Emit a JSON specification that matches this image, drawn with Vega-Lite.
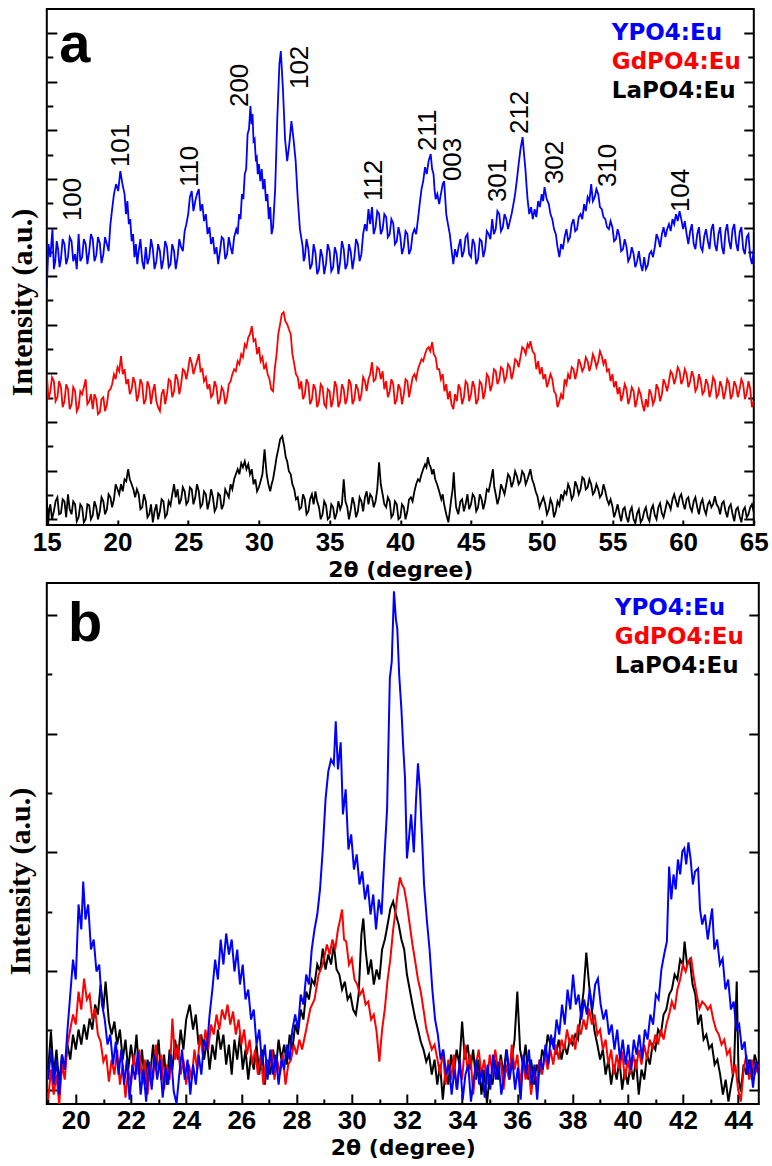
{
"$schema": "https://vega.github.io/schema/vega-lite/v6.json",
"padding": {"left": 3.8, "top": 8, "right": 0, "bottom": 0},
"spacing": 1,
"columns": 1,
"config": {
  "view": {"stroke": "#000", "strokeWidth": 2},
  "axis": {"domain": false, "grid": false, "tickColor": "#000", "tickWidth": 2, "minExtent": 0, "labelFont": "Liberation Sans", "labelFontWeight": "bold", "labelFontSize": 26, "labelColor": "#000", "labelFlush": false, "labelOverlap": false, "titleColor": "#000"},
  "axisX": {"titleFont": "DejaVu Sans", "titleFontWeight": "bold", "titleFontSize": 22, "titlePadding": 4},
  "axisY": {"titleFont": "Liberation Serif", "titleFontWeight": "bold", "titleFontSize": 30},
  "legend": {"orient": "top-right", "labelFont": "DejaVu Sans", "labelFontWeight": "bold", "labelFontSize": 23, "symbolSize": 0, "symbolOpacity": 0, "symbolStrokeWidth": 0, "labelOffset": 0, "rowPadding": 5, "padding": 0, "labelColor": "#000"}
},
"resolve": {"scale": {"color": "independent"}},
"datasets": {
"aY": [{"x":15,"y":232},{"x":15.12,"y":275},{"x":15.25,"y":262},{"x":15.4,"y":290},{"x":15.5,"y":250},{"x":15.6,"y":258},{"x":15.7,"y":278},{"x":15.8,"y":270},{"x":15.9,"y":252},{"x":16,"y":260},{"x":16.12,"y":280},{"x":16.25,"y":275},{"x":16.37,"y":255},{"x":16.5,"y":262},{"x":16.62,"y":282},{"x":16.75,"y":278},{"x":16.87,"y":258},{"x":17,"y":265},{"x":17.12,"y":250},{"x":17.25,"y":285},{"x":17.37,"y":258},{"x":17.5,"y":262},{"x":17.62,"y":280},{"x":17.75,"y":275},{"x":17.87,"y":255},{"x":18,"y":268},{"x":18.12,"y":285},{"x":18.25,"y":280},{"x":18.37,"y":258},{"x":18.5,"y":264},{"x":18.62,"y":282},{"x":18.75,"y":276},{"x":18.87,"y":256},{"x":19,"y":265},{"x":19.12,"y":282},{"x":19.25,"y":275},{"x":19.37,"y":268},{"x":19.5,"y":295},{"x":19.62,"y":310},{"x":19.75,"y":325},{"x":19.9,"y":335},{"x":20.05,"y":328},{"x":20.2,"y":348},{"x":20.35,"y":335},{"x":20.5,"y":325},{"x":20.6,"y":305},{"x":20.7,"y":318},{"x":20.8,"y":295},{"x":20.9,"y":300},{"x":21,"y":278},{"x":21.1,"y":285},{"x":21.2,"y":262},{"x":21.3,"y":275},{"x":21.4,"y":255},{"x":21.5,"y":268},{"x":21.62,"y":280},{"x":21.75,"y":258},{"x":21.87,"y":250},{"x":22,"y":272},{"x":22.12,"y":255},{"x":22.25,"y":262},{"x":22.37,"y":280},{"x":22.5,"y":270},{"x":22.62,"y":250},{"x":22.75,"y":258},{"x":22.87,"y":275},{"x":23,"y":268},{"x":23.12,"y":250},{"x":23.25,"y":260},{"x":23.37,"y":278},{"x":23.5,"y":272},{"x":23.62,"y":252},{"x":23.75,"y":255},{"x":23.87,"y":275},{"x":24,"y":268},{"x":24.12,"y":250},{"x":24.25,"y":262},{"x":24.37,"y":280},{"x":24.5,"y":272},{"x":24.62,"y":268},{"x":24.75,"y":288},{"x":24.87,"y":295},{"x":25,"y":305},{"x":25.12,"y":322},{"x":25.25,"y":328},{"x":25.37,"y":308},{"x":25.5,"y":318},{"x":25.62,"y":325},{"x":25.75,"y":330},{"x":25.87,"y":308},{"x":26,"y":315},{"x":26.12,"y":298},{"x":26.25,"y":305},{"x":26.37,"y":285},{"x":26.5,"y":292},{"x":26.62,"y":275},{"x":26.75,"y":282},{"x":26.87,"y":265},{"x":27,"y":272},{"x":27.12,"y":255},{"x":27.25,"y":268},{"x":27.37,"y":282},{"x":27.5,"y":280},{"x":27.62,"y":260},{"x":27.75,"y":265},{"x":27.87,"y":282},{"x":28,"y":272},{"x":28.12,"y":265},{"x":28.25,"y":282},{"x":28.4,"y":290},{"x":28.5,"y":285},{"x":28.6,"y":305},{"x":28.7,"y":300},{"x":28.8,"y":325},{"x":28.9,"y":320},{"x":29,"y":345},{"x":29.1,"y":350},{"x":29.2,"y":385},{"x":29.3,"y":390},{"x":29.4,"y":413},{"x":29.48,"y":395},{"x":29.55,"y":405},{"x":29.62,"y":378},{"x":29.7,"y":380},{"x":29.78,"y":360},{"x":29.85,"y":362},{"x":29.92,"y":345},{"x":30,"y":355},{"x":30.1,"y":338},{"x":30.2,"y":350},{"x":30.3,"y":330},{"x":30.4,"y":340},{"x":30.5,"y":318},{"x":30.6,"y":325},{"x":30.7,"y":300},{"x":30.8,"y":312},{"x":30.9,"y":285},{"x":31,"y":292},{"x":31.15,"y":330},{"x":31.3,"y":400},{"x":31.45,"y":455},{"x":31.55,"y":468},{"x":31.7,"y":430},{"x":31.85,"y":380},{"x":32,"y":358},{"x":32.15,"y":375},{"x":32.3,"y":398},{"x":32.45,"y":380},{"x":32.6,"y":358},{"x":32.75,"y":320},{"x":32.9,"y":290},{"x":33.1,"y":272},{"x":33.17,"y":258},{"x":33.25,"y":262},{"x":33.37,"y":280},{"x":33.5,"y":270},{"x":33.62,"y":250},{"x":33.75,"y":255},{"x":33.87,"y":275},{"x":34,"y":266},{"x":34.12,"y":245},{"x":34.25,"y":250},{"x":34.37,"y":270},{"x":34.5,"y":262},{"x":34.62,"y":245},{"x":34.75,"y":256},{"x":34.87,"y":275},{"x":35,"y":268},{"x":35.12,"y":248},{"x":35.25,"y":252},{"x":35.37,"y":272},{"x":35.5,"y":265},{"x":35.62,"y":245},{"x":35.75,"y":258},{"x":35.87,"y":278},{"x":36,"y":270},{"x":36.12,"y":250},{"x":36.25,"y":255},{"x":36.37,"y":275},{"x":36.5,"y":267},{"x":36.62,"y":250},{"x":36.75,"y":262},{"x":36.87,"y":280},{"x":37,"y":275},{"x":37.12,"y":258},{"x":37.25,"y":265},{"x":37.37,"y":285},{"x":37.5,"y":295},{"x":37.62,"y":288},{"x":37.75,"y":310},{"x":37.87,"y":295},{"x":38,"y":312},{"x":38.12,"y":285},{"x":38.25,"y":292},{"x":38.37,"y":308},{"x":38.5,"y":305},{"x":38.62,"y":285},{"x":38.75,"y":290},{"x":38.87,"y":305},{"x":39,"y":302},{"x":39.12,"y":282},{"x":39.25,"y":285},{"x":39.37,"y":300},{"x":39.5,"y":296},{"x":39.62,"y":275},{"x":39.75,"y":278},{"x":39.87,"y":292},{"x":40,"y":283},{"x":40.12,"y":265},{"x":40.25,"y":272},{"x":40.37,"y":288},{"x":40.5,"y":285},{"x":40.62,"y":265},{"x":40.75,"y":270},{"x":40.87,"y":285},{"x":41,"y":290},{"x":41.12,"y":285},{"x":41.25,"y":300},{"x":41.37,"y":315},{"x":41.5,"y":330},{"x":41.62,"y":338},{"x":41.75,"y":352},{"x":41.87,"y":345},{"x":42,"y":358},{"x":42.15,"y":365},{"x":42.25,"y":350},{"x":42.35,"y":345},{"x":42.42,"y":330},{"x":42.5,"y":320},{"x":42.62,"y":325},{"x":42.75,"y":315},{"x":42.87,"y":325},{"x":43,"y":335},{"x":43.1,"y":338},{"x":43.25,"y":305},{"x":43.37,"y":295},{"x":43.5,"y":285},{"x":43.62,"y":270},{"x":43.75,"y":255},{"x":43.87,"y":270},{"x":44,"y":262},{"x":44.12,"y":272},{"x":44.25,"y":280},{"x":44.37,"y":262},{"x":44.5,"y":268},{"x":44.62,"y":282},{"x":44.75,"y":285},{"x":44.87,"y":265},{"x":45,"y":262},{"x":45.12,"y":280},{"x":45.25,"y":275},{"x":45.37,"y":255},{"x":45.5,"y":260},{"x":45.62,"y":280},{"x":45.75,"y":278},{"x":45.87,"y":262},{"x":46,"y":270},{"x":46.12,"y":288},{"x":46.25,"y":285},{"x":46.37,"y":280},{"x":46.5,"y":300},{"x":46.62,"y":285},{"x":46.75,"y":290},{"x":46.87,"y":308},{"x":47,"y":305},{"x":47.12,"y":288},{"x":47.25,"y":292},{"x":47.37,"y":305},{"x":47.5,"y":300},{"x":47.62,"y":290},{"x":47.75,"y":298},{"x":47.87,"y":305},{"x":48,"y":315},{"x":48.12,"y":325},{"x":48.25,"y":340},{"x":48.37,"y":355},{"x":48.5,"y":370},{"x":48.65,"y":382},{"x":48.75,"y":365},{"x":48.85,"y":350},{"x":48.92,"y":335},{"x":49,"y":320},{"x":49.12,"y":305},{"x":49.25,"y":312},{"x":49.37,"y":300},{"x":49.5,"y":310},{"x":49.62,"y":302},{"x":49.75,"y":318},{"x":49.87,"y":312},{"x":50,"y":325},{"x":50.1,"y":318},{"x":50.2,"y":332},{"x":50.35,"y":320},{"x":50.5,"y":315},{"x":50.62,"y":305},{"x":50.75,"y":300},{"x":50.87,"y":290},{"x":51,"y":285},{"x":51.12,"y":272},{"x":51.25,"y":262},{"x":51.37,"y":275},{"x":51.5,"y":270},{"x":51.62,"y":282},{"x":51.75,"y":290},{"x":51.87,"y":278},{"x":52,"y":282},{"x":52.12,"y":295},{"x":52.25,"y":300},{"x":52.37,"y":288},{"x":52.5,"y":290},{"x":52.62,"y":302},{"x":52.75,"y":305},{"x":52.87,"y":300},{"x":53,"y":315},{"x":53.12,"y":308},{"x":53.25,"y":322},{"x":53.37,"y":318},{"x":53.5,"y":335},{"x":53.62,"y":318},{"x":53.75,"y":322},{"x":53.87,"y":330},{"x":54,"y":325},{"x":54.12,"y":312},{"x":54.25,"y":310},{"x":54.37,"y":302},{"x":54.5,"y":300},{"x":54.62,"y":292},{"x":54.75,"y":290},{"x":54.87,"y":298},{"x":55,"y":292},{"x":55.12,"y":278},{"x":55.25,"y":280},{"x":55.37,"y":290},{"x":55.5,"y":283},{"x":55.62,"y":268},{"x":55.75,"y":270},{"x":55.87,"y":280},{"x":56,"y":272},{"x":56.12,"y":258},{"x":56.25,"y":262},{"x":56.37,"y":272},{"x":56.5,"y":265},{"x":56.62,"y":252},{"x":56.75,"y":258},{"x":56.87,"y":268},{"x":57,"y":255},{"x":57.12,"y":248},{"x":57.25,"y":262},{"x":57.37,"y":250},{"x":57.5,"y":254},{"x":57.62,"y":265},{"x":57.75,"y":268},{"x":57.87,"y":262},{"x":58,"y":272},{"x":58.12,"y":285},{"x":58.25,"y":280},{"x":58.37,"y":272},{"x":58.5,"y":285},{"x":58.62,"y":292},{"x":58.75,"y":282},{"x":58.87,"y":290},{"x":59,"y":295},{"x":59.12,"y":288},{"x":59.25,"y":300},{"x":59.37,"y":295},{"x":59.5,"y":305},{"x":59.62,"y":298},{"x":59.75,"y":308},{"x":59.87,"y":300},{"x":60,"y":290},{"x":60.12,"y":298},{"x":60.25,"y":285},{"x":60.37,"y":275},{"x":60.5,"y":288},{"x":60.62,"y":295},{"x":60.75,"y":275},{"x":60.87,"y":270},{"x":61,"y":285},{"x":61.12,"y":292},{"x":61.25,"y":272},{"x":61.37,"y":268},{"x":61.5,"y":283},{"x":61.62,"y":290},{"x":61.75,"y":278},{"x":61.87,"y":270},{"x":62,"y":290},{"x":62.12,"y":295},{"x":62.25,"y":275},{"x":62.37,"y":268},{"x":62.5,"y":285},{"x":62.62,"y":292},{"x":62.75,"y":272},{"x":62.87,"y":265},{"x":63,"y":288},{"x":63.12,"y":295},{"x":63.25,"y":278},{"x":63.37,"y":270},{"x":63.5,"y":290},{"x":63.62,"y":295},{"x":63.75,"y":276},{"x":63.87,"y":268},{"x":64,"y":287},{"x":64.12,"y":292},{"x":64.25,"y":270},{"x":64.37,"y":265},{"x":64.5,"y":282},{"x":64.62,"y":285},{"x":64.75,"y":262},{"x":64.87,"y":255},{"x":65,"y":270}],
"aG": [{"x":15,"y":145},{"x":15.12,"y":120},{"x":15.25,"y":128},{"x":15.37,"y":142},{"x":15.5,"y":138},{"x":15.62,"y":118},{"x":15.75,"y":122},{"x":15.87,"y":138},{"x":16,"y":132},{"x":16.12,"y":112},{"x":16.25,"y":118},{"x":16.37,"y":135},{"x":16.5,"y":130},{"x":16.62,"y":110},{"x":16.75,"y":115},{"x":16.87,"y":132},{"x":17,"y":128},{"x":17.12,"y":108},{"x":17.25,"y":112},{"x":17.37,"y":128},{"x":17.5,"y":125},{"x":17.62,"y":132},{"x":17.75,"y":140},{"x":17.87,"y":115},{"x":18,"y":118},{"x":18.12,"y":125},{"x":18.25,"y":110},{"x":18.37,"y":125},{"x":18.5,"y":120},{"x":18.62,"y":105},{"x":18.75,"y":107},{"x":18.87,"y":120},{"x":19,"y":122},{"x":19.12,"y":108},{"x":19.25,"y":115},{"x":19.37,"y":128},{"x":19.5,"y":130},{"x":19.62,"y":135},{"x":19.75,"y":145},{"x":19.87,"y":140},{"x":20,"y":152},{"x":20.12,"y":148},{"x":20.25,"y":163},{"x":20.37,"y":145},{"x":20.5,"y":150},{"x":20.62,"y":135},{"x":20.75,"y":140},{"x":20.87,"y":125},{"x":21,"y":130},{"x":21.12,"y":142},{"x":21.25,"y":136},{"x":21.37,"y":118},{"x":21.5,"y":125},{"x":21.62,"y":140},{"x":21.75,"y":135},{"x":21.87,"y":115},{"x":22,"y":120},{"x":22.12,"y":138},{"x":22.25,"y":132},{"x":22.37,"y":115},{"x":22.5,"y":128},{"x":22.62,"y":135},{"x":22.75,"y":118},{"x":22.87,"y":112},{"x":23,"y":108},{"x":23.12,"y":125},{"x":23.25,"y":130},{"x":23.37,"y":115},{"x":23.5,"y":125},{"x":23.62,"y":140},{"x":23.75,"y":138},{"x":23.87,"y":122},{"x":24,"y":128},{"x":24.12,"y":145},{"x":24.25,"y":140},{"x":24.37,"y":125},{"x":24.5,"y":135},{"x":24.62,"y":150},{"x":24.75,"y":148},{"x":24.87,"y":140},{"x":25,"y":150},{"x":25.12,"y":162},{"x":25.25,"y":156},{"x":25.37,"y":145},{"x":25.5,"y":152},{"x":25.62,"y":158},{"x":25.75,"y":165},{"x":25.87,"y":148},{"x":26,"y":150},{"x":26.12,"y":138},{"x":26.25,"y":142},{"x":26.37,"y":130},{"x":26.5,"y":135},{"x":26.62,"y":122},{"x":26.75,"y":125},{"x":26.87,"y":138},{"x":27,"y":132},{"x":27.12,"y":115},{"x":27.25,"y":120},{"x":27.37,"y":132},{"x":27.5,"y":128},{"x":27.62,"y":115},{"x":27.75,"y":122},{"x":27.87,"y":135},{"x":28,"y":138},{"x":28.12,"y":145},{"x":28.25,"y":150},{"x":28.37,"y":148},{"x":28.5,"y":158},{"x":28.62,"y":155},{"x":28.75,"y":165},{"x":28.87,"y":162},{"x":29,"y":175},{"x":29.12,"y":172},{"x":29.25,"y":182},{"x":29.37,"y":185},{"x":29.5,"y":193},{"x":29.62,"y":178},{"x":29.75,"y":180},{"x":29.87,"y":165},{"x":30,"y":172},{"x":30.12,"y":158},{"x":30.25,"y":162},{"x":30.37,"y":150},{"x":30.5,"y":155},{"x":30.62,"y":145},{"x":30.75,"y":140},{"x":30.87,"y":130},{"x":31,"y":128},{"x":31.12,"y":150},{"x":31.25,"y":165},{"x":31.37,"y":185},{"x":31.5,"y":195},{"x":31.62,"y":205},{"x":31.75,"y":207},{"x":31.87,"y":198},{"x":32,"y":195},{"x":32.12,"y":190},{"x":32.25,"y":185},{"x":32.37,"y":165},{"x":32.5,"y":155},{"x":32.62,"y":145},{"x":32.75,"y":142},{"x":32.87,"y":130},{"x":33,"y":138},{"x":33.12,"y":120},{"x":33.25,"y":125},{"x":33.37,"y":140},{"x":33.5,"y":135},{"x":33.62,"y":115},{"x":33.75,"y":120},{"x":33.87,"y":135},{"x":34,"y":130},{"x":34.12,"y":112},{"x":34.25,"y":118},{"x":34.37,"y":135},{"x":34.5,"y":132},{"x":34.62,"y":115},{"x":34.75,"y":112},{"x":34.87,"y":130},{"x":35,"y":128},{"x":35.12,"y":112},{"x":35.25,"y":120},{"x":35.37,"y":138},{"x":35.5,"y":132},{"x":35.62,"y":112},{"x":35.75,"y":118},{"x":35.87,"y":135},{"x":36,"y":130},{"x":36.12,"y":115},{"x":36.25,"y":122},{"x":36.37,"y":140},{"x":36.5,"y":135},{"x":36.62,"y":115},{"x":36.75,"y":120},{"x":36.87,"y":135},{"x":37,"y":130},{"x":37.12,"y":118},{"x":37.25,"y":125},{"x":37.37,"y":142},{"x":37.5,"y":138},{"x":37.62,"y":128},{"x":37.75,"y":140},{"x":37.87,"y":145},{"x":38,"y":157},{"x":38.12,"y":138},{"x":38.25,"y":140},{"x":38.37,"y":152},{"x":38.5,"y":150},{"x":38.62,"y":140},{"x":38.75,"y":148},{"x":38.87,"y":130},{"x":39,"y":138},{"x":39.12,"y":122},{"x":39.25,"y":128},{"x":39.37,"y":140},{"x":39.5,"y":135},{"x":39.62,"y":115},{"x":39.75,"y":120},{"x":39.87,"y":135},{"x":40,"y":130},{"x":40.12,"y":115},{"x":40.25,"y":125},{"x":40.37,"y":140},{"x":40.5,"y":138},{"x":40.62,"y":122},{"x":40.75,"y":132},{"x":40.87,"y":142},{"x":41,"y":145},{"x":41.12,"y":140},{"x":41.25,"y":150},{"x":41.37,"y":155},{"x":41.5,"y":160},{"x":41.62,"y":158},{"x":41.75,"y":165},{"x":41.87,"y":170},{"x":42,"y":172},{"x":42.12,"y":168},{"x":42.25,"y":177},{"x":42.37,"y":165},{"x":42.5,"y":162},{"x":42.62,"y":150},{"x":42.75,"y":150},{"x":42.87,"y":140},{"x":43,"y":145},{"x":43.12,"y":128},{"x":43.25,"y":135},{"x":43.37,"y":120},{"x":43.5,"y":128},{"x":43.62,"y":115},{"x":43.75,"y":110},{"x":43.87,"y":125},{"x":44,"y":118},{"x":44.12,"y":135},{"x":44.25,"y":130},{"x":44.37,"y":115},{"x":44.5,"y":122},{"x":44.62,"y":138},{"x":44.75,"y":135},{"x":44.87,"y":118},{"x":45,"y":125},{"x":45.12,"y":138},{"x":45.25,"y":132},{"x":45.37,"y":115},{"x":45.5,"y":120},{"x":45.62,"y":138},{"x":45.75,"y":135},{"x":45.87,"y":120},{"x":46,"y":128},{"x":46.12,"y":145},{"x":46.25,"y":142},{"x":46.37,"y":128},{"x":46.5,"y":135},{"x":46.62,"y":150},{"x":46.75,"y":148},{"x":46.87,"y":135},{"x":47,"y":140},{"x":47.12,"y":152},{"x":47.25,"y":150},{"x":47.37,"y":138},{"x":47.5,"y":142},{"x":47.62,"y":155},{"x":47.75,"y":152},{"x":47.87,"y":140},{"x":48,"y":148},{"x":48.12,"y":160},{"x":48.25,"y":158},{"x":48.37,"y":152},{"x":48.5,"y":162},{"x":48.62,"y":172},{"x":48.75,"y":170},{"x":48.87,"y":165},{"x":49,"y":175},{"x":49.1,"y":172},{"x":49.2,"y":178},{"x":49.35,"y":168},{"x":49.5,"y":165},{"x":49.62,"y":150},{"x":49.75,"y":158},{"x":49.87,"y":145},{"x":50,"y":152},{"x":50.12,"y":140},{"x":50.25,"y":145},{"x":50.37,"y":132},{"x":50.5,"y":138},{"x":50.62,"y":145},{"x":50.75,"y":140},{"x":50.87,"y":128},{"x":51,"y":125},{"x":51.12,"y":112},{"x":51.25,"y":118},{"x":51.37,"y":125},{"x":51.5,"y":120},{"x":51.62,"y":140},{"x":51.75,"y":135},{"x":51.87,"y":145},{"x":52,"y":140},{"x":52.12,"y":152},{"x":52.25,"y":150},{"x":52.37,"y":140},{"x":52.5,"y":148},{"x":52.62,"y":160},{"x":52.75,"y":155},{"x":52.87,"y":148},{"x":53,"y":152},{"x":53.12,"y":162},{"x":53.25,"y":158},{"x":53.37,"y":148},{"x":53.5,"y":155},{"x":53.62,"y":165},{"x":53.75,"y":160},{"x":53.87,"y":152},{"x":54,"y":158},{"x":54.12,"y":168},{"x":54.25,"y":163},{"x":54.37,"y":155},{"x":54.5,"y":160},{"x":54.62,"y":148},{"x":54.75,"y":150},{"x":54.87,"y":138},{"x":55,"y":145},{"x":55.12,"y":132},{"x":55.25,"y":138},{"x":55.37,"y":125},{"x":55.5,"y":132},{"x":55.62,"y":118},{"x":55.75,"y":125},{"x":55.87,"y":135},{"x":56,"y":130},{"x":56.12,"y":115},{"x":56.25,"y":122},{"x":56.37,"y":132},{"x":56.5,"y":128},{"x":56.62,"y":112},{"x":56.75,"y":120},{"x":56.87,"y":130},{"x":57,"y":125},{"x":57.12,"y":115},{"x":57.25,"y":108},{"x":57.37,"y":120},{"x":57.5,"y":112},{"x":57.62,"y":130},{"x":57.75,"y":125},{"x":57.87,"y":115},{"x":58,"y":120},{"x":58.12,"y":135},{"x":58.25,"y":130},{"x":58.37,"y":118},{"x":58.5,"y":125},{"x":58.62,"y":140},{"x":58.75,"y":135},{"x":58.87,"y":128},{"x":59,"y":138},{"x":59.12,"y":148},{"x":59.25,"y":145},{"x":59.37,"y":135},{"x":59.5,"y":142},{"x":59.62,"y":152},{"x":59.75,"y":148},{"x":59.87,"y":135},{"x":60,"y":140},{"x":60.12,"y":150},{"x":60.25,"y":145},{"x":60.37,"y":132},{"x":60.5,"y":138},{"x":60.62,"y":148},{"x":60.75,"y":142},{"x":60.87,"y":128},{"x":61,"y":132},{"x":61.12,"y":145},{"x":61.25,"y":138},{"x":61.37,"y":125},{"x":61.5,"y":128},{"x":61.62,"y":140},{"x":61.75,"y":135},{"x":61.87,"y":122},{"x":62,"y":130},{"x":62.12,"y":142},{"x":62.25,"y":138},{"x":62.37,"y":122},{"x":62.5,"y":125},{"x":62.62,"y":138},{"x":62.75,"y":132},{"x":62.87,"y":120},{"x":63,"y":128},{"x":63.12,"y":140},{"x":63.25,"y":136},{"x":63.37,"y":120},{"x":63.5,"y":125},{"x":63.62,"y":138},{"x":63.75,"y":133},{"x":63.87,"y":122},{"x":64,"y":130},{"x":64.12,"y":140},{"x":64.25,"y":135},{"x":64.37,"y":120},{"x":64.5,"y":126},{"x":64.62,"y":138},{"x":64.75,"y":130},{"x":64.87,"y":112},{"x":65,"y":118}],
"aL": [{"x":15,"y":20},{"x":15.1,"y":-5},{"x":15.17,"y":10},{"x":15.25,"y":15},{"x":15.37,"y":0},{"x":15.5,"y":8},{"x":15.62,"y":18},{"x":15.75,"y":22},{"x":15.87,"y":5},{"x":16,"y":6},{"x":16.12,"y":20},{"x":16.25,"y":18},{"x":16.37,"y":2},{"x":16.5,"y":25},{"x":16.62,"y":10},{"x":16.75,"y":5},{"x":16.87,"y":18},{"x":17,"y":15},{"x":17.12,"y":-2},{"x":17.25,"y":2},{"x":17.37,"y":15},{"x":17.5,"y":12},{"x":17.62,"y":-3},{"x":17.75,"y":0},{"x":17.87,"y":15},{"x":18,"y":14},{"x":18.12,"y":0},{"x":18.25,"y":4},{"x":18.37,"y":18},{"x":18.5,"y":12},{"x":18.62,"y":0},{"x":18.75,"y":8},{"x":18.87,"y":22},{"x":19,"y":18},{"x":19.12,"y":5},{"x":19.25,"y":10},{"x":19.37,"y":25},{"x":19.5,"y":22},{"x":19.62,"y":12},{"x":19.75,"y":20},{"x":19.87,"y":35},{"x":20,"y":30},{"x":20.12,"y":25},{"x":20.25,"y":35},{"x":20.37,"y":28},{"x":20.5,"y":40},{"x":20.62,"y":38},{"x":20.75,"y":50},{"x":20.87,"y":40},{"x":21,"y":35},{"x":21.12,"y":30},{"x":21.25,"y":22},{"x":21.37,"y":30},{"x":21.5,"y":25},{"x":21.62,"y":10},{"x":21.75,"y":12},{"x":21.87,"y":25},{"x":22,"y":18},{"x":22.12,"y":2},{"x":22.25,"y":5},{"x":22.37,"y":15},{"x":22.5,"y":-3},{"x":22.62,"y":8},{"x":22.75,"y":15},{"x":22.87,"y":0},{"x":23,"y":8},{"x":23.12,"y":20},{"x":23.25,"y":18},{"x":23.37,"y":2},{"x":23.5,"y":5},{"x":23.62,"y":18},{"x":23.75,"y":14},{"x":23.87,"y":25},{"x":24,"y":35},{"x":24.12,"y":22},{"x":24.25,"y":30},{"x":24.37,"y":15},{"x":24.5,"y":20},{"x":24.62,"y":32},{"x":24.75,"y":28},{"x":24.87,"y":15},{"x":25,"y":18},{"x":25.12,"y":32},{"x":25.25,"y":30},{"x":25.37,"y":15},{"x":25.5,"y":22},{"x":25.62,"y":35},{"x":25.75,"y":28},{"x":25.87,"y":12},{"x":26,"y":15},{"x":26.12,"y":28},{"x":26.25,"y":25},{"x":26.37,"y":10},{"x":26.5,"y":18},{"x":26.62,"y":30},{"x":26.75,"y":22},{"x":26.87,"y":8},{"x":27,"y":12},{"x":27.12,"y":26},{"x":27.25,"y":24},{"x":27.37,"y":10},{"x":27.5,"y":15},{"x":27.62,"y":30},{"x":27.75,"y":26},{"x":27.87,"y":22},{"x":28,"y":35},{"x":28.12,"y":30},{"x":28.25,"y":40},{"x":28.37,"y":45},{"x":28.5,"y":50},{"x":28.62,"y":45},{"x":28.75,"y":56},{"x":28.87,"y":52},{"x":29,"y":58},{"x":29.12,"y":50},{"x":29.25,"y":55},{"x":29.37,"y":45},{"x":29.5,"y":50},{"x":29.62,"y":35},{"x":29.75,"y":40},{"x":29.87,"y":28},{"x":30,"y":32},{"x":30.12,"y":38},{"x":30.25,"y":45},{"x":30.4,"y":70},{"x":30.55,"y":45},{"x":30.67,"y":35},{"x":30.8,"y":28},{"x":30.9,"y":35},{"x":31,"y":40},{"x":31.12,"y":50},{"x":31.25,"y":62},{"x":31.37,"y":70},{"x":31.5,"y":80},{"x":31.65,"y":83},{"x":31.8,"y":72},{"x":31.9,"y":62},{"x":32,"y":58},{"x":32.12,"y":48},{"x":32.25,"y":45},{"x":32.37,"y":35},{"x":32.5,"y":30},{"x":32.62,"y":20},{"x":32.75,"y":22},{"x":32.87,"y":10},{"x":33,"y":12},{"x":33.12,"y":25},{"x":33.25,"y":20},{"x":33.37,"y":5},{"x":33.5,"y":8},{"x":33.62,"y":20},{"x":33.75,"y":25},{"x":33.87,"y":15},{"x":34,"y":28},{"x":34.12,"y":18},{"x":34.25,"y":12},{"x":34.37,"y":0},{"x":34.5,"y":5},{"x":34.62,"y":18},{"x":34.75,"y":14},{"x":34.87,"y":0},{"x":35,"y":2},{"x":35.12,"y":15},{"x":35.25,"y":12},{"x":35.37,"y":0},{"x":35.5,"y":6},{"x":35.62,"y":18},{"x":35.75,"y":10},{"x":35.87,"y":15},{"x":36,"y":40},{"x":36.12,"y":18},{"x":36.25,"y":12},{"x":36.37,"y":0},{"x":36.5,"y":10},{"x":36.62,"y":22},{"x":36.75,"y":15},{"x":36.87,"y":2},{"x":37,"y":8},{"x":37.12,"y":22},{"x":37.25,"y":18},{"x":37.37,"y":8},{"x":37.5,"y":22},{"x":37.62,"y":28},{"x":37.75,"y":15},{"x":37.87,"y":25},{"x":38,"y":22},{"x":38.12,"y":12},{"x":38.25,"y":18},{"x":38.37,"y":30},{"x":38.5,"y":57},{"x":38.62,"y":35},{"x":38.75,"y":25},{"x":38.87,"y":15},{"x":39,"y":12},{"x":39.12,"y":22},{"x":39.25,"y":18},{"x":39.37,"y":2},{"x":39.5,"y":5},{"x":39.62,"y":18},{"x":39.75,"y":15},{"x":39.87,"y":0},{"x":40,"y":2},{"x":40.12,"y":15},{"x":40.25,"y":12},{"x":40.37,"y":0},{"x":40.5,"y":8},{"x":40.62,"y":20},{"x":40.75,"y":22},{"x":40.87,"y":18},{"x":41,"y":28},{"x":41.12,"y":35},{"x":41.25,"y":40},{"x":41.37,"y":38},{"x":41.5,"y":45},{"x":41.62,"y":50},{"x":41.75,"y":55},{"x":41.85,"y":52},{"x":41.95,"y":62},{"x":42.05,"y":55},{"x":42.15,"y":52},{"x":42.25,"y":45},{"x":42.35,"y":50},{"x":42.47,"y":40},{"x":42.6,"y":35},{"x":42.75,"y":28},{"x":42.9,"y":20},{"x":43,"y":25},{"x":43.1,"y":15},{"x":43.25,"y":5},{"x":43.4,"y":-3},{"x":43.5,"y":8},{"x":43.6,"y":20},{"x":43.7,"y":30},{"x":43.78,"y":47},{"x":43.87,"y":25},{"x":43.95,"y":12},{"x":44.1,"y":5},{"x":44.25,"y":18},{"x":44.37,"y":20},{"x":44.5,"y":8},{"x":44.62,"y":15},{"x":44.75,"y":25},{"x":44.87,"y":10},{"x":45,"y":15},{"x":45.12,"y":25},{"x":45.25,"y":22},{"x":45.37,"y":8},{"x":45.5,"y":12},{"x":45.62,"y":25},{"x":45.75,"y":20},{"x":45.87,"y":10},{"x":46,"y":18},{"x":46.12,"y":30},{"x":46.25,"y":28},{"x":46.4,"y":38},{"x":46.55,"y":50},{"x":46.65,"y":32},{"x":46.75,"y":25},{"x":46.87,"y":15},{"x":47,"y":22},{"x":47.12,"y":35},{"x":47.25,"y":30},{"x":47.37,"y":25},{"x":47.5,"y":35},{"x":47.62,"y":45},{"x":47.75,"y":42},{"x":47.87,"y":32},{"x":48,"y":38},{"x":48.12,"y":48},{"x":48.25,"y":43},{"x":48.37,"y":35},{"x":48.5,"y":38},{"x":48.62,"y":48},{"x":48.75,"y":45},{"x":48.87,"y":35},{"x":49,"y":40},{"x":49.1,"y":45},{"x":49.2,"y":50},{"x":49.32,"y":40},{"x":49.45,"y":35},{"x":49.57,"y":28},{"x":49.7,"y":23},{"x":49.85,"y":12},{"x":50,"y":18},{"x":50.12,"y":22},{"x":50.25,"y":15},{"x":50.37,"y":5},{"x":50.5,"y":10},{"x":50.62,"y":20},{"x":50.75,"y":15},{"x":50.87,"y":2},{"x":51,"y":8},{"x":51.12,"y":18},{"x":51.25,"y":14},{"x":51.37,"y":25},{"x":51.5,"y":20},{"x":51.62,"y":28},{"x":51.75,"y":25},{"x":51.87,"y":35},{"x":52,"y":30},{"x":52.12,"y":20},{"x":52.25,"y":24},{"x":52.37,"y":38},{"x":52.5,"y":33},{"x":52.62,"y":25},{"x":52.75,"y":30},{"x":52.87,"y":42},{"x":53,"y":40},{"x":53.12,"y":30},{"x":53.25,"y":32},{"x":53.37,"y":40},{"x":53.5,"y":35},{"x":53.62,"y":25},{"x":53.75,"y":28},{"x":53.87,"y":35},{"x":54,"y":30},{"x":54.12,"y":22},{"x":54.25,"y":25},{"x":54.37,"y":35},{"x":54.5,"y":28},{"x":54.62,"y":20},{"x":54.75,"y":15},{"x":54.87,"y":20},{"x":55,"y":13},{"x":55.12,"y":2},{"x":55.25,"y":8},{"x":55.37,"y":15},{"x":55.5,"y":5},{"x":55.62,"y":-2},{"x":55.75,"y":10},{"x":55.87,"y":12},{"x":56,"y":2},{"x":56.12,"y":-3},{"x":56.25,"y":8},{"x":56.37,"y":12},{"x":56.5,"y":0},{"x":56.62,"y":-4},{"x":56.75,"y":6},{"x":56.87,"y":10},{"x":57,"y":-3},{"x":57.12,"y":0},{"x":57.25,"y":8},{"x":57.37,"y":12},{"x":57.5,"y":2},{"x":57.62,"y":-2},{"x":57.75,"y":10},{"x":57.87,"y":14},{"x":58,"y":4},{"x":58.12,"y":0},{"x":58.25,"y":12},{"x":58.37,"y":16},{"x":58.5,"y":6},{"x":58.62,"y":2},{"x":58.75,"y":10},{"x":58.87,"y":18},{"x":59,"y":15},{"x":59.12,"y":10},{"x":59.25,"y":20},{"x":59.37,"y":25},{"x":59.5,"y":18},{"x":59.62,"y":12},{"x":59.75,"y":22},{"x":59.87,"y":25},{"x":60,"y":16},{"x":60.12,"y":10},{"x":60.25,"y":20},{"x":60.37,"y":22},{"x":60.5,"y":12},{"x":60.62,"y":8},{"x":60.75,"y":18},{"x":60.87,"y":22},{"x":61,"y":12},{"x":61.12,"y":5},{"x":61.25,"y":16},{"x":61.37,"y":20},{"x":61.5,"y":10},{"x":61.62,"y":5},{"x":61.75,"y":15},{"x":61.87,"y":18},{"x":62,"y":12},{"x":62.12,"y":15},{"x":62.25,"y":23},{"x":62.37,"y":15},{"x":62.5,"y":12},{"x":62.62,"y":5},{"x":62.75,"y":16},{"x":62.87,"y":18},{"x":63,"y":8},{"x":63.12,"y":2},{"x":63.25,"y":12},{"x":63.37,"y":15},{"x":63.5,"y":5},{"x":63.62,"y":-2},{"x":63.75,"y":10},{"x":63.87,"y":12},{"x":64,"y":3},{"x":64.12,"y":-3},{"x":64.25,"y":9},{"x":64.37,"y":12},{"x":64.5,"y":2},{"x":64.62,"y":5},{"x":64.75,"y":12},{"x":64.87,"y":15},{"x":65,"y":7}],
"hkl": [{"h":"100","x":16.84,"y":298},{"h":"101","x":20.27,"y":352},{"h":"110","x":25.16,"y":332},{"h":"200","x":28.66,"y":412},{"h":"102","x":32.93,"y":430},{"h":"112","x":38.17,"y":318},{"h":"211","x":41.96,"y":368},{"h":"003","x":43.7,"y":338},{"h":"301","x":46.93,"y":317},{"h":"212","x":48.5,"y":385},{"h":"302","x":50.95,"y":335},{"h":"310","x":54.7,"y":332},{"h":"104","x":59.86,"y":307}],
"bY": [{"x":19,"y":10},{"x":19.1,"y":40},{"x":19.2,"y":5},{"x":19.3,"y":30},{"x":19.4,"y":-5},{"x":19.5,"y":35},{"x":19.6,"y":20},{"x":19.7,"y":60},{"x":19.8,"y":95},{"x":19.9,"y":130},{"x":20,"y":110},{"x":20.1,"y":185},{"x":20.2,"y":160},{"x":20.27,"y":208},{"x":20.35,"y":170},{"x":20.45,"y":185},{"x":20.55,"y":140},{"x":20.65,"y":150},{"x":20.75,"y":118},{"x":20.85,"y":125},{"x":20.95,"y":85},{"x":21.05,"y":70},{"x":21.15,"y":45},{"x":21.25,"y":55},{"x":21.35,"y":25},{"x":21.45,"y":48},{"x":21.55,"y":15},{"x":21.65,"y":40},{"x":21.75,"y":5},{"x":21.85,"y":30},{"x":21.95,"y":-10},{"x":22.05,"y":25},{"x":22.15,"y":10},{"x":22.25,"y":38},{"x":22.35,"y":-5},{"x":22.45,"y":20},{"x":22.55,"y":-12},{"x":22.65,"y":28},{"x":22.75,"y":0},{"x":22.85,"y":35},{"x":22.95,"y":10},{"x":23.05,"y":30},{"x":23.15,"y":-8},{"x":23.25,"y":22},{"x":23.35,"y":5},{"x":23.45,"y":35},{"x":23.55,"y":-2},{"x":23.65,"y":-14},{"x":23.75,"y":15},{"x":23.85,"y":40},{"x":23.95,"y":10},{"x":24.05,"y":30},{"x":24.15,"y":-5},{"x":24.25,"y":25},{"x":24.35,"y":5},{"x":24.45,"y":35},{"x":24.55,"y":15},{"x":24.65,"y":50},{"x":24.75,"y":40},{"x":24.85,"y":75},{"x":24.95,"y":100},{"x":25.05,"y":130},{"x":25.15,"y":110},{"x":25.25,"y":150},{"x":25.35,"y":125},{"x":25.45,"y":156},{"x":25.55,"y":135},{"x":25.65,"y":150},{"x":25.75,"y":118},{"x":25.85,"y":140},{"x":25.95,"y":105},{"x":26.05,"y":125},{"x":26.15,"y":90},{"x":26.25,"y":100},{"x":26.35,"y":70},{"x":26.45,"y":80},{"x":26.55,"y":45},{"x":26.65,"y":60},{"x":26.75,"y":25},{"x":26.85,"y":45},{"x":26.95,"y":10},{"x":27.05,"y":40},{"x":27.15,"y":15},{"x":27.25,"y":35},{"x":27.35,"y":5},{"x":27.45,"y":30},{"x":27.55,"y":20},{"x":27.65,"y":45},{"x":27.75,"y":30},{"x":27.85,"y":60},{"x":27.95,"y":75},{"x":28.05,"y":60},{"x":28.15,"y":95},{"x":28.25,"y":85},{"x":28.35,"y":115},{"x":28.45,"y":105},{"x":28.55,"y":140},{"x":28.65,"y":160},{"x":28.75,"y":175},{"x":28.85,"y":200},{"x":28.95,"y":240},{"x":29.05,"y":290},{"x":29.15,"y":318},{"x":29.25,"y":330},{"x":29.35,"y":325},{"x":29.42,"y":368},{"x":29.5,"y":320},{"x":29.6,"y":347},{"x":29.68,"y":275},{"x":29.78,"y":300},{"x":29.88,"y":240},{"x":29.98,"y":255},{"x":30.08,"y":220},{"x":30.18,"y":235},{"x":30.28,"y":205},{"x":30.38,"y":218},{"x":30.48,"y":190},{"x":30.58,"y":205},{"x":30.68,"y":175},{"x":30.78,"y":195},{"x":30.88,"y":160},{"x":30.98,"y":190},{"x":31.08,"y":175},{"x":31.18,"y":230},{"x":31.28,"y":280},{"x":31.38,"y":411},{"x":31.45,"y":428},{"x":31.53,"y":498},{"x":31.6,"y":470},{"x":31.65,"y":461},{"x":31.72,"y":414},{"x":31.8,"y":380},{"x":31.86,"y":345},{"x":31.93,"y":311},{"x":32,"y":231},{"x":32.07,"y":250},{"x":32.15,"y":275},{"x":32.25,"y":237},{"x":32.33,"y":290},{"x":32.4,"y":326},{"x":32.47,"y":300},{"x":32.55,"y":250},{"x":32.62,"y":205},{"x":32.72,"y":170},{"x":32.82,"y":140},{"x":32.92,"y":100},{"x":33.02,"y":70},{"x":33.12,"y":55},{"x":33.22,"y":30},{"x":33.32,"y":40},{"x":33.42,"y":15},{"x":33.52,"y":25},{"x":33.62,"y":-5},{"x":33.72,"y":20},{"x":33.82,"y":0},{"x":33.92,"y":30},{"x":34.02,"y":-10},{"x":34.12,"y":15},{"x":34.22,"y":25},{"x":34.32,"y":-12},{"x":34.42,"y":10},{"x":34.52,"y":30},{"x":34.62,"y":5},{"x":34.72,"y":20},{"x":34.82,"y":-8},{"x":34.92,"y":25},{"x":35.02,"y":0},{"x":35.12,"y":35},{"x":35.22,"y":10},{"x":35.32,"y":28},{"x":35.42,"y":-5},{"x":35.52,"y":15},{"x":35.62,"y":40},{"x":35.72,"y":10},{"x":35.82,"y":30},{"x":35.92,"y":0},{"x":36.02,"y":22},{"x":36.12,"y":-10},{"x":36.22,"y":35},{"x":36.32,"y":15},{"x":36.42,"y":40},{"x":36.52,"y":5},{"x":36.62,"y":25},{"x":36.72,"y":-10},{"x":36.82,"y":30},{"x":36.92,"y":20},{"x":37.02,"y":45},{"x":37.12,"y":25},{"x":37.22,"y":55},{"x":37.32,"y":40},{"x":37.42,"y":70},{"x":37.52,"y":55},{"x":37.62,"y":85},{"x":37.72,"y":65},{"x":37.82,"y":100},{"x":37.92,"y":80},{"x":38.02,"y":115},{"x":38.12,"y":85},{"x":38.22,"y":95},{"x":38.32,"y":70},{"x":38.42,"y":90},{"x":38.52,"y":75},{"x":38.62,"y":100},{"x":38.72,"y":80},{"x":38.82,"y":105},{"x":38.92,"y":111},{"x":39.02,"y":85},{"x":39.12,"y":70},{"x":39.22,"y":80},{"x":39.32,"y":55},{"x":39.42,"y":65},{"x":39.52,"y":40},{"x":39.62,"y":60},{"x":39.72,"y":30},{"x":39.82,"y":50},{"x":39.92,"y":25},{"x":40.02,"y":45},{"x":40.12,"y":20},{"x":40.22,"y":50},{"x":40.32,"y":35},{"x":40.42,"y":55},{"x":40.52,"y":30},{"x":40.62,"y":60},{"x":40.72,"y":50},{"x":40.82,"y":75},{"x":40.92,"y":65},{"x":41.02,"y":95},{"x":41.12,"y":90},{"x":41.22,"y":120},{"x":41.32,"y":135},{"x":41.42,"y":148},{"x":41.5,"y":223},{"x":41.58,"y":190},{"x":41.66,"y":215},{"x":41.74,"y":200},{"x":41.82,"y":230},{"x":41.9,"y":215},{"x":41.98,"y":238},{"x":42.05,"y":241},{"x":42.12,"y":225},{"x":42.2,"y":247},{"x":42.28,"y":230},{"x":42.36,"y":205},{"x":42.44,"y":218},{"x":42.55,"y":221},{"x":42.62,"y":180},{"x":42.7,"y":165},{"x":42.8,"y":175},{"x":42.9,"y":150},{"x":43,"y":170},{"x":43.06,"y":181},{"x":43.14,"y":140},{"x":43.24,"y":150},{"x":43.34,"y":125},{"x":43.44,"y":131},{"x":43.54,"y":100},{"x":43.64,"y":110},{"x":43.74,"y":80},{"x":43.84,"y":88},{"x":43.94,"y":60},{"x":44.04,"y":65},{"x":44.14,"y":40},{"x":44.24,"y":48},{"x":44.34,"y":15},{"x":44.44,"y":30},{"x":44.54,"y":2},{"x":44.64,"y":28},{"x":44.75,"y":15}],
"bG": [{"x":19,"y":-10},{"x":19.1,"y":20},{"x":19.2,"y":-5},{"x":19.3,"y":15},{"x":19.4,"y":-15},{"x":19.5,"y":25},{"x":19.6,"y":10},{"x":19.7,"y":45},{"x":19.8,"y":60},{"x":19.9,"y":75},{"x":20,"y":65},{"x":20.1,"y":98},{"x":20.2,"y":80},{"x":20.3,"y":111},{"x":20.4,"y":90},{"x":20.5,"y":95},{"x":20.6,"y":70},{"x":20.7,"y":81},{"x":20.8,"y":55},{"x":20.9,"y":48},{"x":21,"y":28},{"x":21.1,"y":35},{"x":21.2,"y":8},{"x":21.3,"y":30},{"x":21.4,"y":15},{"x":21.5,"y":40},{"x":21.6,"y":5},{"x":21.7,"y":25},{"x":21.8,"y":-8},{"x":21.9,"y":20},{"x":22,"y":5},{"x":22.1,"y":35},{"x":22.2,"y":15},{"x":22.3,"y":40},{"x":22.4,"y":10},{"x":22.5,"y":30},{"x":22.6,"y":-5},{"x":22.7,"y":25},{"x":22.8,"y":10},{"x":22.9,"y":45},{"x":23,"y":20},{"x":23.1,"y":35},{"x":23.2,"y":0},{"x":23.3,"y":25},{"x":23.4,"y":10},{"x":23.5,"y":71},{"x":23.6,"y":30},{"x":23.7,"y":45},{"x":23.8,"y":15},{"x":23.9,"y":30},{"x":24,"y":5},{"x":24.1,"y":25},{"x":24.2,"y":10},{"x":24.3,"y":40},{"x":24.4,"y":20},{"x":24.5,"y":55},{"x":24.6,"y":35},{"x":24.7,"y":60},{"x":24.8,"y":40},{"x":24.9,"y":65},{"x":25,"y":55},{"x":25.1,"y":75},{"x":25.2,"y":60},{"x":25.3,"y":80},{"x":25.4,"y":70},{"x":25.5,"y":85},{"x":25.6,"y":65},{"x":25.7,"y":78},{"x":25.8,"y":55},{"x":25.9,"y":70},{"x":26,"y":45},{"x":26.1,"y":60},{"x":26.2,"y":35},{"x":26.3,"y":50},{"x":26.4,"y":25},{"x":26.5,"y":40},{"x":26.6,"y":15},{"x":26.7,"y":35},{"x":26.8,"y":5},{"x":26.9,"y":30},{"x":27,"y":20},{"x":27.1,"y":40},{"x":27.2,"y":10},{"x":27.3,"y":30},{"x":27.4,"y":15},{"x":27.5,"y":35},{"x":27.6,"y":5},{"x":27.7,"y":25},{"x":27.8,"y":30},{"x":27.9,"y":45},{"x":28,"y":35},{"x":28.1,"y":50},{"x":28.2,"y":40},{"x":28.35,"y":60},{"x":28.5,"y":81},{"x":28.65,"y":90},{"x":28.8,"y":115},{"x":28.95,"y":125},{"x":29.1,"y":145},{"x":29.2,"y":135},{"x":29.3,"y":150},{"x":29.4,"y":140},{"x":29.5,"y":160},{"x":29.58,"y":170},{"x":29.65,"y":180},{"x":29.72,"y":150},{"x":29.8,"y":148},{"x":29.9,"y":125},{"x":30,"y":131},{"x":30.1,"y":110},{"x":30.2,"y":105},{"x":30.3,"y":95},{"x":30.4,"y":100},{"x":30.5,"y":85},{"x":30.6,"y":88},{"x":30.7,"y":70},{"x":30.8,"y":75},{"x":30.9,"y":58},{"x":31,"y":28},{"x":31.1,"y":60},{"x":31.2,"y":81},{"x":31.3,"y":110},{"x":31.4,"y":131},{"x":31.5,"y":160},{"x":31.6,"y":181},{"x":31.68,"y":200},{"x":31.75,"y":212},{"x":31.82,"y":205},{"x":31.9,"y":201},{"x":32,"y":185},{"x":32.1,"y":165},{"x":32.2,"y":145},{"x":32.3,"y":128},{"x":32.4,"y":110},{"x":32.5,"y":98},{"x":32.6,"y":80},{"x":32.7,"y":61},{"x":32.8,"y":50},{"x":32.9,"y":40},{"x":33,"y":45},{"x":33.1,"y":31},{"x":33.2,"y":15},{"x":33.3,"y":40},{"x":33.4,"y":5},{"x":33.5,"y":30},{"x":33.6,"y":10},{"x":33.7,"y":35},{"x":33.8,"y":0},{"x":33.9,"y":25},{"x":34,"y":10},{"x":34.1,"y":45},{"x":34.2,"y":20},{"x":34.3,"y":35},{"x":34.4,"y":-5},{"x":34.5,"y":25},{"x":34.6,"y":40},{"x":34.7,"y":15},{"x":34.8,"y":30},{"x":34.9,"y":5},{"x":35,"y":35},{"x":35.1,"y":15},{"x":35.2,"y":40},{"x":35.3,"y":20},{"x":35.4,"y":30},{"x":35.5,"y":0},{"x":35.6,"y":25},{"x":35.7,"y":10},{"x":35.8,"y":45},{"x":35.9,"y":20},{"x":36,"y":35},{"x":36.1,"y":5},{"x":36.2,"y":30},{"x":36.3,"y":10},{"x":36.4,"y":25},{"x":36.5,"y":-5},{"x":36.6,"y":20},{"x":36.7,"y":5},{"x":36.8,"y":30},{"x":36.9,"y":15},{"x":37,"y":35},{"x":37.1,"y":20},{"x":37.2,"y":40},{"x":37.3,"y":25},{"x":37.4,"y":45},{"x":37.5,"y":30},{"x":37.6,"y":50},{"x":37.7,"y":40},{"x":37.8,"y":60},{"x":37.9,"y":45},{"x":38,"y":55},{"x":38.1,"y":40},{"x":38.2,"y":65},{"x":38.3,"y":55},{"x":38.4,"y":70},{"x":38.5,"y":60},{"x":38.6,"y":81},{"x":38.7,"y":65},{"x":38.8,"y":75},{"x":38.9,"y":55},{"x":39,"y":60},{"x":39.1,"y":40},{"x":39.2,"y":50},{"x":39.3,"y":25},{"x":39.4,"y":40},{"x":39.5,"y":15},{"x":39.6,"y":35},{"x":39.7,"y":20},{"x":39.8,"y":38},{"x":39.9,"y":10},{"x":40,"y":30},{"x":40.1,"y":15},{"x":40.2,"y":35},{"x":40.3,"y":20},{"x":40.4,"y":40},{"x":40.5,"y":25},{"x":40.6,"y":45},{"x":40.7,"y":30},{"x":40.8,"y":50},{"x":40.9,"y":40},{"x":41,"y":55},{"x":41.1,"y":45},{"x":41.2,"y":60},{"x":41.3,"y":50},{"x":41.4,"y":65},{"x":41.5,"y":75},{"x":41.6,"y":88},{"x":41.7,"y":80},{"x":41.8,"y":100},{"x":41.9,"y":110},{"x":42,"y":125},{"x":42.1,"y":118},{"x":42.2,"y":128},{"x":42.3,"y":131},{"x":42.4,"y":111},{"x":42.5,"y":95},{"x":42.6,"y":81},{"x":42.7,"y":88},{"x":42.8,"y":85},{"x":42.9,"y":80},{"x":43,"y":84},{"x":43.1,"y":70},{"x":43.2,"y":60},{"x":43.3,"y":55},{"x":43.4,"y":45},{"x":43.5,"y":50},{"x":43.6,"y":35},{"x":43.7,"y":40},{"x":43.8,"y":15},{"x":43.9,"y":25},{"x":44,"y":0},{"x":44.1,"y":-12},{"x":44.2,"y":20},{"x":44.3,"y":35},{"x":44.4,"y":10},{"x":44.5,"y":30},{"x":44.6,"y":15},{"x":44.75,"y":25}],
"bL": [{"x":19,"y":20},{"x":19.1,"y":58},{"x":19.2,"y":15},{"x":19.3,"y":40},{"x":19.4,"y":5},{"x":19.5,"y":35},{"x":19.6,"y":20},{"x":19.7,"y":45},{"x":19.8,"y":30},{"x":19.9,"y":55},{"x":20,"y":40},{"x":20.1,"y":60},{"x":20.2,"y":45},{"x":20.3,"y":65},{"x":20.4,"y":50},{"x":20.5,"y":71},{"x":20.6,"y":60},{"x":20.7,"y":85},{"x":20.8,"y":75},{"x":20.9,"y":105},{"x":21,"y":80},{"x":21.08,"y":108},{"x":21.2,"y":68},{"x":21.3,"y":55},{"x":21.4,"y":68},{"x":21.5,"y":45},{"x":21.6,"y":60},{"x":21.7,"y":30},{"x":21.8,"y":50},{"x":21.9,"y":20},{"x":22,"y":45},{"x":22.1,"y":25},{"x":22.2,"y":55},{"x":22.3,"y":15},{"x":22.4,"y":40},{"x":22.5,"y":5},{"x":22.6,"y":30},{"x":22.7,"y":15},{"x":22.8,"y":45},{"x":22.9,"y":20},{"x":23,"y":50},{"x":23.1,"y":10},{"x":23.2,"y":35},{"x":23.3,"y":5},{"x":23.4,"y":40},{"x":23.5,"y":20},{"x":23.6,"y":50},{"x":23.7,"y":30},{"x":23.8,"y":60},{"x":23.9,"y":40},{"x":24,"y":70},{"x":24.13,"y":85},{"x":24.25,"y":60},{"x":24.35,"y":75},{"x":24.45,"y":45},{"x":24.55,"y":55},{"x":24.65,"y":30},{"x":24.75,"y":50},{"x":24.85,"y":20},{"x":24.95,"y":45},{"x":25.05,"y":30},{"x":25.15,"y":60},{"x":25.25,"y":40},{"x":25.35,"y":55},{"x":25.45,"y":25},{"x":25.55,"y":45},{"x":25.65,"y":15},{"x":25.75,"y":50},{"x":25.85,"y":30},{"x":25.95,"y":55},{"x":26.05,"y":20},{"x":26.15,"y":40},{"x":26.25,"y":10},{"x":26.35,"y":35},{"x":26.45,"y":20},{"x":26.55,"y":45},{"x":26.65,"y":15},{"x":26.75,"y":40},{"x":26.85,"y":5},{"x":26.95,"y":30},{"x":27.05,"y":15},{"x":27.15,"y":40},{"x":27.25,"y":20},{"x":27.35,"y":50},{"x":27.45,"y":30},{"x":27.55,"y":45},{"x":27.65,"y":25},{"x":27.75,"y":55},{"x":27.85,"y":40},{"x":27.95,"y":65},{"x":28.05,"y":55},{"x":28.15,"y":80},{"x":28.25,"y":70},{"x":28.35,"y":98},{"x":28.45,"y":90},{"x":28.55,"y":110},{"x":28.65,"y":105},{"x":28.75,"y":125},{"x":28.85,"y":118},{"x":28.95,"y":141},{"x":29.05,"y":120},{"x":29.15,"y":135},{"x":29.25,"y":125},{"x":29.35,"y":145},{"x":29.45,"y":120},{"x":29.55,"y":115},{"x":29.65,"y":100},{"x":29.75,"y":108},{"x":29.85,"y":90},{"x":29.95,"y":95},{"x":30.05,"y":80},{"x":30.15,"y":75},{"x":30.25,"y":95},{"x":30.35,"y":155},{"x":30.42,"y":171},{"x":30.5,"y":140},{"x":30.6,"y":115},{"x":30.7,"y":130},{"x":30.8,"y":105},{"x":30.9,"y":120},{"x":31,"y":110},{"x":31.1,"y":140},{"x":31.2,"y":150},{"x":31.3,"y":165},{"x":31.4,"y":181},{"x":31.5,"y":188},{"x":31.6,"y":175},{"x":31.7,"y":165},{"x":31.8,"y":150},{"x":31.9,"y":140},{"x":32,"y":115},{"x":32.1,"y":100},{"x":32.2,"y":85},{"x":32.3,"y":71},{"x":32.4,"y":60},{"x":32.5,"y":48},{"x":32.6,"y":40},{"x":32.7,"y":28},{"x":32.8,"y":35},{"x":32.9,"y":15},{"x":33,"y":30},{"x":33.1,"y":5},{"x":33.2,"y":25},{"x":33.3,"y":-10},{"x":33.4,"y":20},{"x":33.5,"y":5},{"x":33.6,"y":35},{"x":33.7,"y":15},{"x":33.8,"y":40},{"x":33.9,"y":25},{"x":34,"y":68},{"x":34.1,"y":30},{"x":34.2,"y":45},{"x":34.3,"y":20},{"x":34.4,"y":40},{"x":34.5,"y":10},{"x":34.6,"y":30},{"x":34.7,"y":-5},{"x":34.8,"y":20},{"x":34.9,"y":-14},{"x":35,"y":15},{"x":35.1,"y":5},{"x":35.2,"y":30},{"x":35.3,"y":10},{"x":35.4,"y":35},{"x":35.5,"y":15},{"x":35.6,"y":40},{"x":35.7,"y":20},{"x":35.8,"y":30},{"x":35.9,"y":50},{"x":36,"y":98},{"x":36.1,"y":40},{"x":36.2,"y":25},{"x":36.3,"y":45},{"x":36.4,"y":10},{"x":36.5,"y":30},{"x":36.6,"y":5},{"x":36.7,"y":25},{"x":36.8,"y":15},{"x":36.9,"y":40},{"x":37,"y":30},{"x":37.1,"y":55},{"x":37.2,"y":45},{"x":37.3,"y":50},{"x":37.4,"y":35},{"x":37.5,"y":50},{"x":37.6,"y":30},{"x":37.7,"y":45},{"x":37.8,"y":35},{"x":37.9,"y":50},{"x":38,"y":45},{"x":38.1,"y":55},{"x":38.2,"y":50},{"x":38.3,"y":75},{"x":38.4,"y":98},{"x":38.5,"y":137},{"x":38.6,"y":105},{"x":38.7,"y":80},{"x":38.8,"y":58},{"x":38.9,"y":45},{"x":39,"y":30},{"x":39.1,"y":40},{"x":39.2,"y":15},{"x":39.3,"y":30},{"x":39.4,"y":5},{"x":39.5,"y":25},{"x":39.6,"y":10},{"x":39.7,"y":30},{"x":39.8,"y":0},{"x":39.9,"y":20},{"x":40,"y":5},{"x":40.1,"y":25},{"x":40.2,"y":10},{"x":40.3,"y":30},{"x":40.4,"y":-5},{"x":40.5,"y":20},{"x":40.6,"y":10},{"x":40.7,"y":35},{"x":40.8,"y":25},{"x":40.9,"y":45},{"x":41,"y":40},{"x":41.1,"y":60},{"x":41.2,"y":55},{"x":41.3,"y":75},{"x":41.4,"y":80},{"x":41.5,"y":95},{"x":41.6,"y":100},{"x":41.7,"y":115},{"x":41.8,"y":110},{"x":41.9,"y":130},{"x":42,"y":125},{"x":42.06,"y":148},{"x":42.15,"y":125},{"x":42.25,"y":130},{"x":42.35,"y":105},{"x":42.45,"y":95},{"x":42.55,"y":65},{"x":42.65,"y":75},{"x":42.75,"y":50},{"x":42.85,"y":55},{"x":42.95,"y":41},{"x":43.05,"y":45},{"x":43.15,"y":25},{"x":43.25,"y":30},{"x":43.35,"y":15},{"x":43.45,"y":-5},{"x":43.55,"y":10},{"x":43.65,"y":-12},{"x":43.75,"y":5},{"x":43.85,"y":20},{"x":43.95,"y":108},{"x":44.02,"y":10},{"x":44.1,"y":-2},{"x":44.2,"y":25},{"x":44.3,"y":15},{"x":44.4,"y":30},{"x":44.5,"y":10},{"x":44.6,"y":35},{"x":44.75,"y":20}]
},
"concat": [
{
  "width": 707, "height": 516,
  "resolve": {"axis": {"y": "independent"}},
  "layer": [
    {"data": {"name": "aY"}, "mark": {"type": "line", "strokeWidth": 1.8, "clip": true},
     "encoding": {
       "x": {"field": "x", "type": "quantitative", "scale": {"domain": [15, 65], "nice": false, "zero": false},
             "axis": {"orient": "bottom", "title": "2θ (degree)", "values": [15,17.5,20,22.5,25,27.5,30,32.5,35,37.5,40,42.5,45,47.5,50,52.5,55,57.5,60,62.5,65], "labelExpr": "datum.value % 5 === 0 ? datum.label : ''", "tickSize": -5, "labelPadding": 9}},
       "y": {"field": "y", "type": "quantitative", "scale": {"domain": [-5.7, 510], "nice": false, "zero": false},
             "axis": {"orient": "left", "title": "Intensity (a.u.)", "labels": false, "titlePadding": 8.3, "titleY": 293, "tickSize": -10, "values": [0,48.6,97.2,145.8,194.4,243,291.6,340.2,388.8,437.4,486]}},
       "color": {"datum": "YPO4:Eu", "type": "nominal", "scale": {"domain": ["YPO4:Eu", "GdPO4:Eu", "LaPO4:Eu"], "range": ["#0000ff", "#ff0000", "#000000"]},
                 "legend": {"offset": 12, "encode": {"labels": {"update": {"fill": {"signal": "datum.value === 'YPO4:Eu' ? '#0000ff' : (datum.value === 'GdPO4:Eu' ? '#ff0000' : '#000000')"}}}}}}
     }},
    {"data": {"name": "aG"}, "mark": {"type": "line", "strokeWidth": 1.8, "clip": true},
     "encoding": {
       "x": {"field": "x", "type": "quantitative", "scale": {"domain": [15, 65], "nice": false, "zero": false}},
       "y": {"field": "y", "type": "quantitative", "scale": {"domain": [-5.7, 510], "nice": false, "zero": false},
             "axis": {"orient": "left", "title": null, "labels": false, "tickSize": -6, "values": [24.3,72.9,121.5,170.1,218.7,267.3,315.9,364.5,413.1,461.7]}},
       "color": {"datum": "GdPO4:Eu", "type": "nominal"}
     }},
    {"data": {"name": "aL"}, "mark": {"type": "line", "strokeWidth": 1.8, "clip": true},
     "encoding": {
       "x": {"field": "x", "type": "quantitative", "scale": {"domain": [15, 65], "nice": false, "zero": false}},
       "y": {"field": "y", "type": "quantitative", "scale": {"domain": [-5.7, 510], "nice": false, "zero": false},
             "axis": {"orient": "right", "title": null, "labels": false, "tickSize": -10, "values": [0,48.6,97.2,145.8,194.4,243,291.6,340.2,388.8,437.4,486]}},
       "color": {"datum": "LaPO4:Eu", "type": "nominal"}
     }},
    {"data": {"name": "hkl"}, "mark": {"type": "text", "angle": 270, "align": "left", "baseline": "middle", "font": "Liberation Sans", "fontSize": 26, "color": "#000"},
     "encoding": {
       "x": {"field": "x", "type": "quantitative", "scale": {"domain": [15, 65], "nice": false, "zero": false}},
       "y": {"field": "y", "type": "quantitative", "scale": {"domain": [-5.7, 510], "nice": false, "zero": false},
             "axis": {"orient": "right", "title": null, "labels": false, "tickSize": -6, "values": [24.3,72.9,121.5,170.1,218.7,267.3,315.9,364.5,413.1,461.7]}},
       "text": {"field": "h", "type": "nominal"}
     }},
    {"data": {"values": [{}]}, "mark": {"type": "text", "text": "a", "align": "left", "baseline": "alphabetic", "font": "Liberation Sans", "fontWeight": "bold", "fontSize": 56, "color": "#000"},
     "encoding": {
       "x": {"datum": 15.88, "type": "quantitative", "scale": {"domain": [15, 65], "nice": false, "zero": false}},
       "y": {"datum": 457, "type": "quantitative", "scale": {"domain": [-5.7, 510], "nice": false, "zero": false}, "axis": null}
     }}
  ]
},
{
  "width": 712, "height": 521,
  "resolve": {"axis": {"x": "independent", "y": "independent"}},
  "layer": [
    {"data": {"name": "bL"}, "mark": {"type": "line", "strokeWidth": 2, "clip": true},
     "encoding": {
       "x": {"field": "x", "type": "quantitative", "scale": {"domain": [18.95, 44.75], "nice": false, "zero": false},
             "axis": {"orient": "bottom", "title": "2θ (degree)", "values": [20,22,24,26,28,30,32,34,36,38,40,42,44], "tickSize": -10, "labelPadding": 14}},
       "y": {"field": "y", "type": "quantitative", "scale": {"domain": [-14.4, 506.3], "nice": false, "zero": false},
             "axis": {"orient": "left", "title": "Intensity (a.u.)", "labels": false, "titlePadding": 10.7, "titleY": 298, "tickSize": -10, "values": [0,118.6,237.2,355.8,474.4]}},
       "color": {"datum": "LaPO4:Eu", "type": "nominal", "scale": {"domain": ["YPO4:Eu", "GdPO4:Eu", "LaPO4:Eu"], "range": ["#0000ff", "#ff0000", "#000000"]},
                 "legend": {"offset": 14, "encode": {"labels": {"update": {"fill": {"signal": "datum.value === 'YPO4:Eu' ? '#0000ff' : (datum.value === 'GdPO4:Eu' ? '#ff0000' : '#000000')"}}}}}}
     }},
    {"data": {"name": "bG"}, "mark": {"type": "line", "strokeWidth": 2, "clip": true},
     "encoding": {
       "x": {"field": "x", "type": "quantitative", "scale": {"domain": [18.95, 44.75], "nice": false, "zero": false},
             "axis": {"orient": "bottom", "title": null, "labels": false, "values": [19,21,23,25,27,29,31,33,35,37,39,41,43], "tickSize": -5}},
       "y": {"field": "y", "type": "quantitative", "scale": {"domain": [-14.4, 506.3], "nice": false, "zero": false},
             "axis": {"orient": "left", "title": null, "labels": false, "tickSize": -5, "values": [59.3,177.9,296.5,415.1]}},
       "color": {"datum": "GdPO4:Eu", "type": "nominal"}
     }},
    {"data": {"name": "bY"}, "mark": {"type": "line", "strokeWidth": 2, "clip": true},
     "encoding": {
       "x": {"field": "x", "type": "quantitative", "scale": {"domain": [18.95, 44.75], "nice": false, "zero": false}, "axis": null},
       "y": {"field": "y", "type": "quantitative", "scale": {"domain": [-14.4, 506.3], "nice": false, "zero": false},
             "axis": {"orient": "right", "title": null, "labels": false, "tickSize": -10, "values": [0,118.6,237.2,355.8,474.4]}},
       "color": {"datum": "YPO4:Eu", "type": "nominal"}
     }},
    {"data": {"values": [{}]}, "mark": {"type": "text", "text": "b", "align": "left", "baseline": "alphabetic", "font": "Liberation Sans", "fontWeight": "bold", "fontSize": 56, "color": "#000"},
     "encoding": {
       "x": {"datum": 19.72, "type": "quantitative", "scale": {"domain": [18.95, 44.75], "nice": false, "zero": false}, "axis": null},
       "y": {"datum": 448, "type": "quantitative", "scale": {"domain": [-14.4, 506.3], "nice": false, "zero": false},
             "axis": {"orient": "right", "title": null, "labels": false, "tickSize": -5, "values": [59.3,177.9,296.5,415.1]}}
     }}
  ]
}
]
}
